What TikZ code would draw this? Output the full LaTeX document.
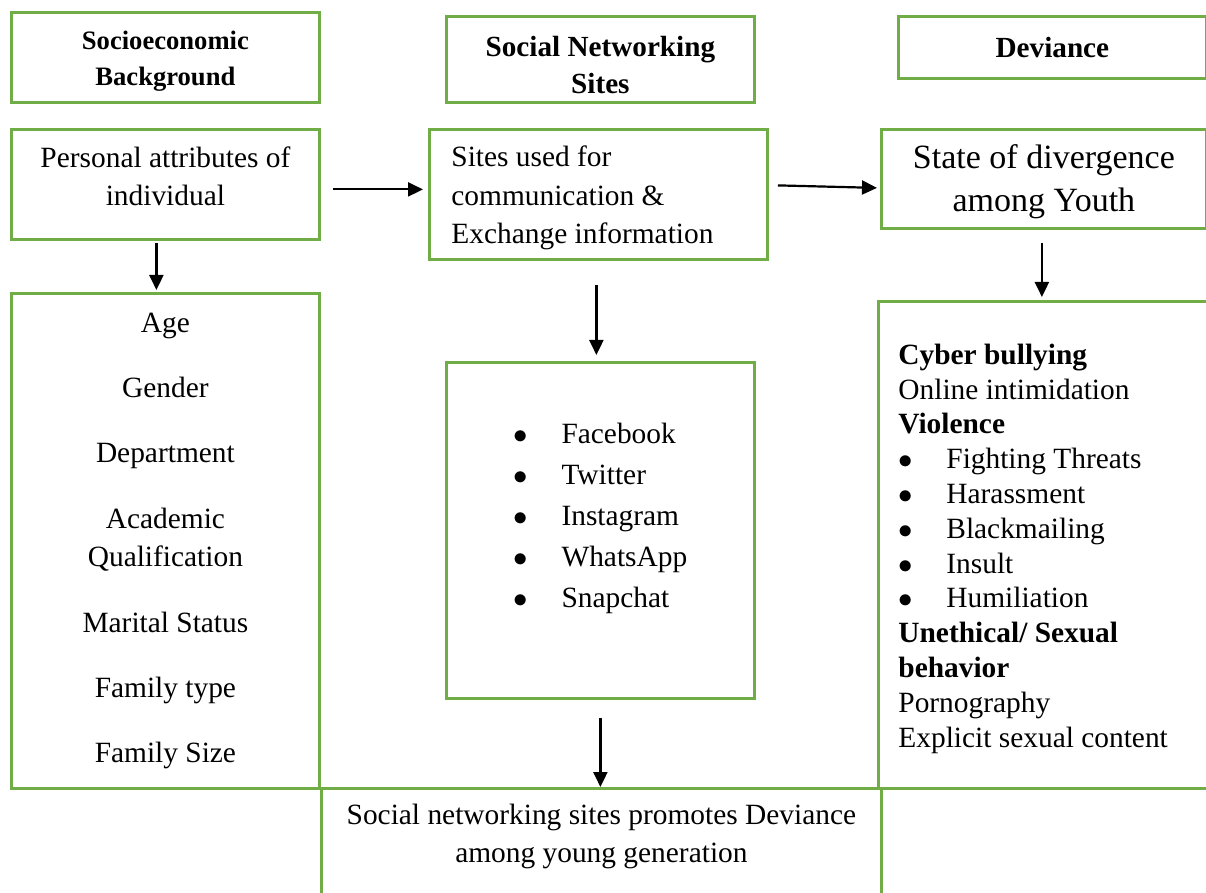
\documentclass[tikz,border=0pt]{standalone}
\usepackage{fontspec}
\setmainfont{Liberation Serif}
\usetikzlibrary{arrows.meta,positioning}
\definecolor{frame}{RGB}{112,173,71}
\newcommand{\bulitem}[1]{\makebox[24pt][l]{$\bullet$}#1}

\begin{document}
\begin{tikzpicture}[x=0.5pt,y=-0.5pt,
  box/.style={draw=frame,line width=1.4pt,anchor=north west,inner sep=0pt,font=\fontsize{14.7}{19.2}\selectfont},
  head/.style={box,align=flush center,font=\fontsize{14.6}{18.5}\selectfont\bfseries},
  ar/.style={-{Triangle[length=7.5pt,width=7pt]},line width=1.1pt}
]
\useasboundingbox (0,0) rectangle (1206,893);
\clip (0,0) rectangle (1206,893);
% column headings
\node[head,minimum width=154pt,minimum height=45pt,text height=31pt,font=\fontsize{13.3}{18}\selectfont\bfseries] (socio) at (10,11) {Socioeconomic\\Background};
\node[head,minimum width=154pt,minimum height=43pt,text height=34pt] (sns) at (445,15) {Social Networking\\Sites};
\node[head,minimum width=154pt,minimum height=31pt] (dev) at (897,15) {Deviance};
% second row
\node[box,align=flush center,minimum width=154pt,minimum height=55pt,text depth=8pt] (attr) at (10,128) {Personal attributes of\\individual};
\node[box,align=flush left,text width=147pt,minimum width=169pt,minimum height=65pt,text height=14pt] (sites) at (428,128) {Sites used for\\communication \&\\Exchange information};
\node[box,align=flush center,minimum width=162.5pt,minimum height=49.5pt,text height=36pt,font=\fontsize{17}{21.5}\selectfont] (state) at (880,128) {State of divergence\\among Youth};
% lists
\node[box,align=flush center,minimum width=154pt,minimum height=247.5pt] (traits) at (10,292) {Age\\[13.5pt]Gender\\[13.5pt]Department\\[13.5pt]Academic\\Qualification\\[13.5pt]Marital Status\\[13.5pt]Family type\\[13.5pt]Family Size};
\node[box,align=flush left,minimum width=154pt,minimum height=168pt,text depth=15pt,font=\fontsize{14.7}{20.5}\selectfont] (media) at (445,361) {\bulitem{Facebook}\\\bulitem{Twitter}\\\bulitem{Instagram}\\\bulitem{WhatsApp}\\\bulitem{Snapchat}};
\node[box,align=flush left,text width=149pt,minimum width=169pt,minimum height=243.5pt,text height=14pt,font=\fontsize{14.7}{17.4}\selectfont] (forms) at (877,300) {\textbf{Cyber bullying}\\Online intimidation\\\textbf{Violence}\\\bulitem{Fighting Threats}\\\bulitem{Harassment}\\\bulitem{Blackmailing}\\\bulitem{Insult}\\\bulitem{Humiliation}\\\textbf{Unethical/ Sexual}\\\textbf{behavior}\\Pornography\\Explicit sexual content};
% outcome
\node[box,align=flush center,minimum width=280pt,text height=37.2pt,text depth=40pt] (claim) at (320,787) {Social networking sites promotes Deviance\\among young generation};
\draw[ar] ([shift={(6pt,-2.5pt)}]attr.east) -- ([shift={(-2.5pt,-2.5pt)}]attr.east -| sites.west);
\draw[ar] ([shift={(4.5pt,4.5pt)}]sites.east) -- ([shift={(-1.5pt,-4.5pt)}]state.west);
\draw[ar] ([shift={(-4.5pt,-1pt)}]attr.south) -- ([shift={(-4.5pt,1pt)}]traits.north);
\draw[ar] ([shift={(-1pt,-12pt)}]sites.south) -- ([shift={(-1pt,3pt)}]sites.south |- media.north);
\draw[ar] ([yshift=-9pt]media.south) -- (media.south |- claim.north);
\draw[ar] ([shift={(-1pt,-6.5pt)}]state.south) -- ([shift={(-1pt,1.5pt)}]state.south |- forms.north);
\end{tikzpicture}
\end{document}
